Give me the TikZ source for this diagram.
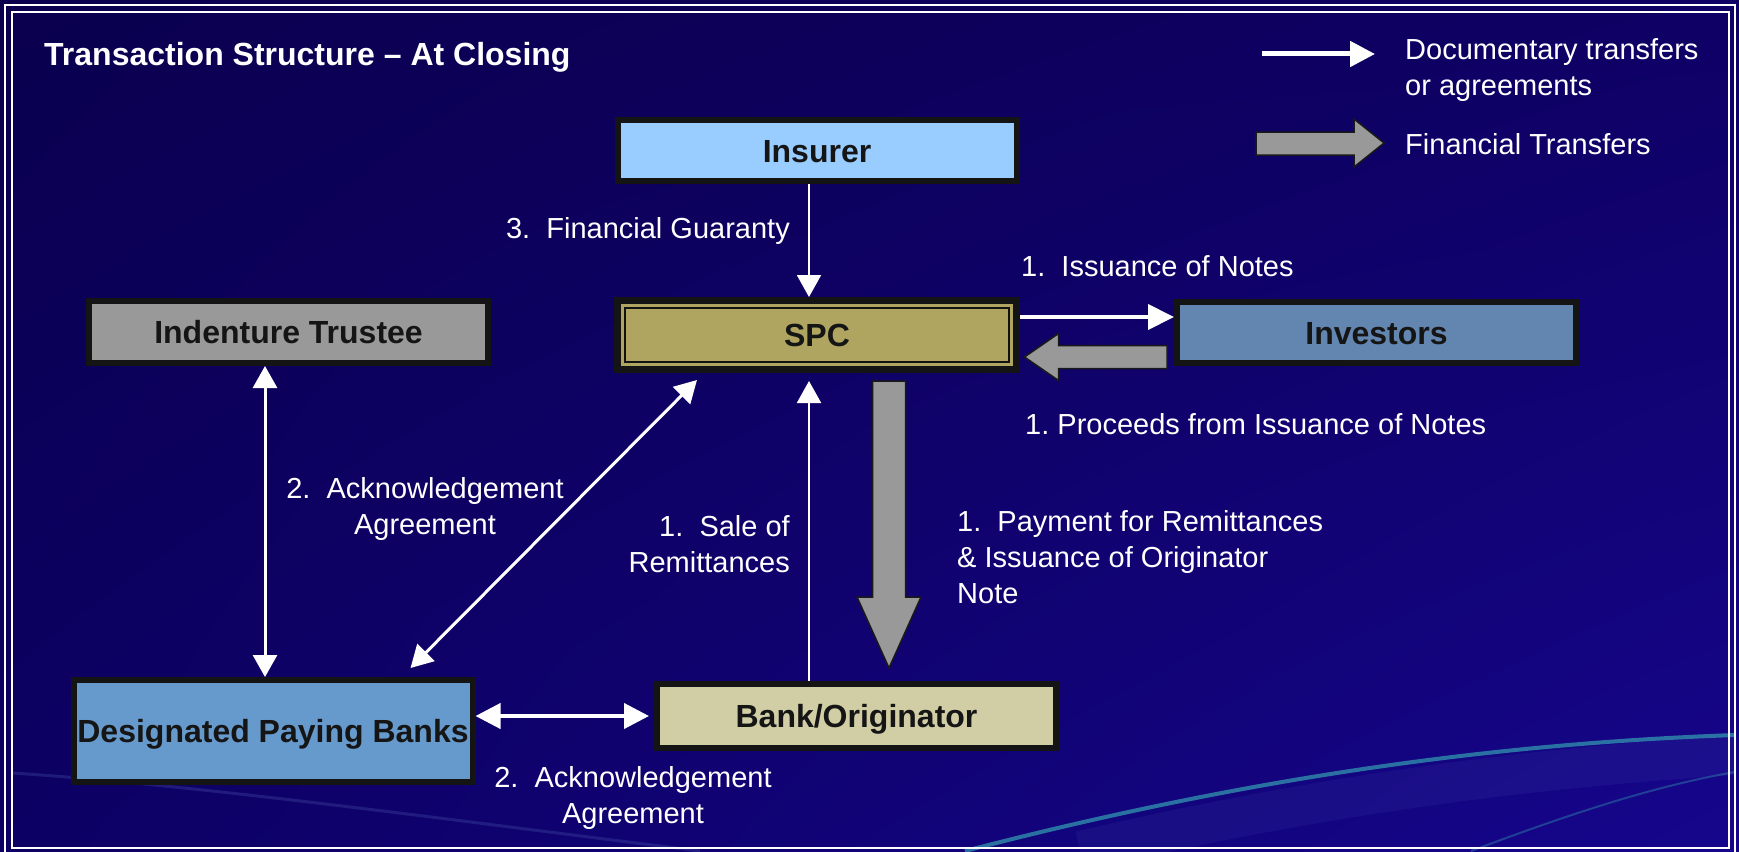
\documentclass[tikz,border=0pt]{standalone}
\usepackage{fontspec}
\setmainfont{Liberation Sans}
\usetikzlibrary{arrows.meta,calc,shadings}
\definecolor{bgUL}{RGB}{10,0,78}
\definecolor{bgUR}{RGB}{14,0,100}
\definecolor{bgLL}{RGB}{12,0,100}
\definecolor{bgLR}{RGB}{22,6,140}
\definecolor{boxline}{RGB}{20,20,20}
\definecolor{txtdark}{RGB}{21,21,21}
\definecolor{insfill}{RGB}{153,204,255}
\definecolor{spcfill}{RGB}{175,165,96}
\definecolor{trufill}{RGB}{153,153,153}
\definecolor{invfill}{RGB}{99,134,176}
\definecolor{dpbfill}{RGB}{102,153,204}
\definecolor{bankfill}{RGB}{209,206,166}
\definecolor{finfill}{RGB}{153,153,153}
\definecolor{swoosh}{RGB}{50,150,175}
\definecolor{haze}{RGB}{120,150,220}
\frenchspacing
\begin{document}
\begin{tikzpicture}[x=1pt,y=-1pt,
  box/.style={draw=boxline, line width=6, inner sep=0pt, text=txtdark,
    font=\bfseries\fontsize{32}{36}\selectfont, text height=23pt, text depth=0pt,
    minimum width=399pt},
  lbl/.style={text=white, inner sep=0pt, font=\fontsize{29}{36}\selectfont},
  doc/.style={white, line width=3, -{Triangle[length=22pt,width=24pt]}},
  docboth/.style={white, line width=3, {Triangle[length=22pt,width=24pt]}-{Triangle[length=22pt,width=24pt]}},
  fin/.style={fill=finfill, draw=black!90, line width=1.5, line join=miter}
]
\useasboundingbox (0,0) rectangle (1739,851);
% background
\shade[upper left=bgUL, upper right=bgUR, lower left=bgLL, lower right=bgLR] (0,0) rectangle (1739,851);
% swooshes
\draw[haze, line width=40, opacity=0.07] (1080,851) .. controls (1300,800) and (1500,770) .. (1735,755);
\draw[swoosh, line width=4, opacity=0.75] (965,851) .. controls (1200,790) and (1450,745) .. (1735,735);
\draw[swoosh, line width=2, opacity=0.4] (1471,851) .. controls (1580,810) and (1660,785) .. (1735,772);
\draw[haze, line width=3, opacity=0.18] (12,773) .. controls (200,785) and (450,820) .. (700,851);
% frame
\draw[white, line width=2] (5,5) rectangle (1735,856);
\draw[white, line width=2] (12,12) rectangle (1729,848);
% title
\node[anchor=base west, text=white, inner sep=0pt, font=\bfseries\fontsize{32}{36}\selectfont] (title) at (44,66) {Transaction Structure – At Closing};
% boxes
\node[box, fill=insfill, minimum height=61pt] (insurer) at (817,150.5) {Insurer};
\node[box, fill=spcfill, line width=7, minimum height=69pt] (spc) at (817,335) {SPC};
\draw[boxline!90!black, line width=2] ($(spc.north west)+(11,11)$) rectangle ($(spc.south east)+(-11,-11)$);
\node[box, fill=trufill, minimum height=62pt] (trustee) at (288.5,332) {Indenture Trustee};
\node[box, fill=invfill, minimum height=61pt] (investors) at (1376.5,332.5) {Investors};
\node[box, fill=dpbfill, minimum height=102pt] (dpb) at (273,731) {Designated Paying Banks};
\node[box, fill=bankfill, minimum height=64pt] (bank) at (856.5,716) {Bank/Originator};
% helper coordinates
\coordinate (xa) at (809,0);
\coordinate (xt) at (265,0);
\coordinate (yi) at (0,317);
\coordinate (yf) at (0,357);
% documentary arrows
\draw[doc, line width=2] (insurer.south -| xa) -- (spc.north -| xa);
\draw[doc, line width=2] (bank.north -| xa) -- ($(spc.south -| xa)+(0,8)$);
\draw[doc, line width=4, -{Triangle[length=26pt,width=25pt]}] (spc.east |- yi) -- (investors.west |- yi);
\draw[docboth] (trustee.south -| xt) -- (dpb.north -| xt);
\coordinate (d1) at ($(dpb.north west)+(340,-9)$);
\coordinate (d2) at ($(spc.south west)+(83,7)$);
\draw[docboth] (d1) -- (d2);
\draw[docboth, line width=4, {Triangle[length=25pt,width=25pt]}-{Triangle[length=25pt,width=25pt]}] (dpb.east |- bank.west) -- ($(bank.west)+(-5,0)$);
% financial arrows
\coordinate (fa1) at ($(investors.west |- yf)+(-7,0)$);
\coordinate (fa2) at ($(spc.east |- yf)+(4.5,0)$);
\draw[fin] ($(fa1)+(0,-11.5)$) -- ($(fa2)+(34,-11.5)$) -- ($(fa2)+(34,-23.5)$) -- (fa2)
  -- ($(fa2)+(34,23.5)$) -- ($(fa2)+(34,11.5)$) -- ($(fa1)+(0,11.5)$) -- cycle;
\coordinate (fb1) at ($(spc.south)+(72,8)$);
\coordinate (fb2) at ($(bank.north)+(32.5,-13)$);
\draw[fin] ($(fb1)+(-16.5,0)$) -- ($(fb2)+(-16.5,-71)$) -- ($(fb2)+(-32,-71)$) -- (fb2)
  -- ($(fb2)+(32,-71)$) -- ($(fb2)+(16.5,-71)$) -- ($(fb1)+(16.5,0)$) -- cycle;
% labels
\node[lbl, anchor=north east] (l3) at (790,217) {3.~~Financial Guaranty};
\node[lbl, anchor=north west] (l1a) at (1021,255) {1.~~Issuance of Notes};
\node[lbl, anchor=north west] (l1b) at (1025,413) {1. Proceeds from Issuance of Notes};
\node[lbl, anchor=north, align=center] (l2a) at (425,477) {2.~~Acknowledgement\\Agreement};
\node[lbl, anchor=north east, align=right] (l1c) at (790,515) {1.~~Sale of\\Remittances};
\node[lbl, anchor=north west, align=left] (l1d) at (957,510) {1.~~Payment for Remittances\\\&~Issuance of Originator\\Note};
\node[lbl, anchor=north, align=center] (l2b) at (633,766) {2.~~Acknowledgement\\Agreement};
% legend
\coordinate (lg1) at (1262,54);
\coordinate (lg2) at (1375,54);
\draw[white, line width=5, -{Triangle[length=25pt,width=25pt]}] (lg1) -- (lg2);
\draw[fin] (1256,132) -- (1354,132) -- (1354,119) -- (1384,143) -- (1354,167) -- (1354,155) -- (1256,155) -- cycle;
\node[lbl, anchor=north west, align=left] (lgd) at (1405,38) {Documentary transfers\\or agreements};
\node[lbl, anchor=north west] (lgf) at (1405,133) {Financial Transfers};
\end{tikzpicture}
\end{document}
